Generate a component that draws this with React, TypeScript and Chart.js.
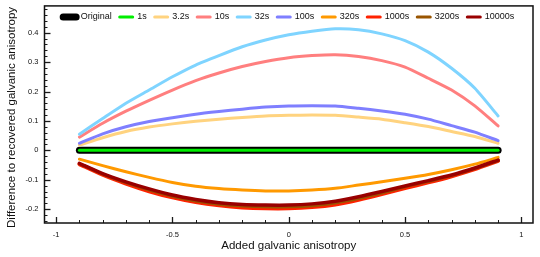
import React, { useEffect, useRef } from "react";
import { Chart, registerables } from "chart.js";

Chart.register(...registerables);

const xs = [-0.9, -0.8, -0.7, -0.6, -0.5, -0.4, -0.3, -0.2, -0.1, 0, 0.1, 0.2, 0.3, 0.4, 0.5, 0.6, 0.7, 0.8, 0.9];

const seriesNames = ["Original", "1s", "3.2s", "10s", "32s", "100s", "320s", "1000s", "3200s", "10000s"];

const original = [0, 0, 0, 0, 0, 0, 0, 0, 0, 0, 0, 0, 0, 0, 0, 0, 0, 0, 0];
const s1 = [0, 0, 0, 0, 0, 0, 0, 0, 0, 0, 0, 0, 0, 0, 0, 0, 0, 0, 0];
const s3_2 = [0.018, 0.043, 0.064, 0.079, 0.09, 0.099, 0.106, 0.112, 0.117, 0.119, 0.12, 0.119, 0.113, 0.106, 0.094, 0.081, 0.064, 0.047, 0.024];
const s10 = [0.045, 0.092, 0.133, 0.17, 0.205, 0.237, 0.263, 0.285, 0.302, 0.315, 0.322, 0.325, 0.319, 0.305, 0.283, 0.245, 0.205, 0.151, 0.083];
const s32 = [0.055, 0.108, 0.16, 0.205, 0.25, 0.29, 0.322, 0.352, 0.375, 0.393, 0.405, 0.413, 0.41, 0.396, 0.373, 0.334, 0.279, 0.211, 0.117];
const s100 = [0.024, 0.056, 0.08, 0.098, 0.111, 0.123, 0.132, 0.14, 0.147, 0.151, 0.152, 0.151, 0.143, 0.134, 0.123, 0.106, 0.084, 0.062, 0.033];
const s320 = [-0.03, -0.052, -0.073, -0.092, -0.109, -0.122, -0.13, -0.135, -0.138, -0.138, -0.135, -0.129, -0.118, -0.107, -0.095, -0.082, -0.066, -0.047, -0.024];
const s1000 = [-0.047, -0.083, -0.113, -0.139, -0.16, -0.176, -0.187, -0.194, -0.197, -0.197, -0.193, -0.184, -0.168, -0.149, -0.128, -0.109, -0.088, -0.064, -0.036];
const s3200 = [-0.045, -0.081, -0.11, -0.135, -0.156, -0.172, -0.183, -0.189, -0.192, -0.192, -0.188, -0.179, -0.164, -0.145, -0.124, -0.106, -0.086, -0.062, -0.035];
const s10000 = [-0.044, -0.079, -0.107, -0.131, -0.152, -0.167, -0.178, -0.184, -0.186, -0.186, -0.182, -0.173, -0.158, -0.14, -0.121, -0.103, -0.084, -0.06, -0.033];

const seriesValues = [original, s1, s3_2, s10, s32, s100, s320, s1000, s3200, s10000];
const seriesColors = ["#000000", "#00ee00", "#ffd37f", "#ff7f7f", "#7fd4ff", "#7f7fff", "#ff9900", "#ff2200", "#995500", "#990000"];
const seriesWidths = [7, 3, 3, 3, 3, 3, 3, 4, 3, 3.5];
const legendWidths = [7, 3, 3, 3, 3, 3, 3, 3, 3, 3];

const xTickValues = [-1, -0.5, 0, 0.5, 1];
const yTickValues = [-0.2, -0.1, 0, 0.1, 0.2, 0.3, 0.4];
const yFrameTop = 0.491;
const yTitle = "Difference to recovered galvanic anisotropy";

const FONT = "'Liberation Sans', Arial, Helvetica, sans-serif";

const framePlugin = {
  id: "frameTicks",
  afterDatasetsDraw(chart: any) {
    const { ctx, chartArea } = chart;
    const xs_ = chart.scales.x;
    const ys_ = chart.scales.y;
    const { left, right, bottom } = chartArea;
    const top = ys_.getPixelForValue(yFrameTop);
    ctx.save();
    ctx.strokeStyle = "#1a1a1a";
    // x ticks
    for (let i = -10; i <= 10; i++) {
      const v = i / 10;
      const px = Math.round(xs_.getPixelForValue(v)) + 0.5;
      const major = i % 5 === 0;
      ctx.lineWidth = major ? 1.3 : 1;
      ctx.beginPath();
      ctx.moveTo(px, bottom);
      ctx.lineTo(px, bottom - (major ? 6 : 3));
      ctx.stroke();
    }
    // y ticks
    for (let i = -12; i <= 24; i++) {
      const v = i / 50;
      const py = Math.round(ys_.getPixelForValue(v)) + 0.5;
      const major = i % 5 === 0;
      ctx.lineWidth = major ? 1.3 : 1;
      ctx.beginPath();
      ctx.moveTo(left, py);
      ctx.lineTo(left + (major ? 6 : 3), py);
      ctx.stroke();
    }
    ctx.lineWidth = 1.5;
    ctx.strokeStyle = "#111";
    ctx.strokeRect(left, top, right - left, bottom - top);
    // y title
    ctx.translate(12, (top + bottom) / 2 + 3);
    ctx.rotate(-Math.PI / 2);
    ctx.fillStyle = "#111";
    ctx.font = `11.5px ${FONT}`;
    ctx.textAlign = "center";
    ctx.textBaseline = "middle";
    ctx.fillText(yTitle, 0, 0);
    ctx.restore();
  },
};

export default function App() {
  const canvasRef = useRef<HTMLCanvasElement | null>(null);

  useEffect(() => {
    if (!canvasRef.current) return;
    const datasets = seriesNames.map((name, i) => ({
      label: name,
      data: xs.map((x, j) => ({ x, y: seriesValues[i][j] })),
      borderColor: seriesColors[i],
      backgroundColor: seriesColors[i],
      borderWidth: seriesWidths[i],
      borderCapStyle: "round" as const,
      borderJoinStyle: "round" as const,
      pointRadius: 0,
      tension: 0.2,
      fill: false,
      clip: false as any,
      order: -i,
    }));
    const chart = new Chart(canvasRef.current, {
      type: "line",
      data: { datasets },
      plugins: [framePlugin],
      options: {
        animation: false,
        responsive: false,
        layout: { padding: { top: 4.5, right: 7, left: 0, bottom: 0 } },
        plugins: {
          tooltip: { enabled: false },
          legend: {
            position: "top",
            align: "center",
            fullSize: false,
            labels: {
              usePointStyle: true,
              pointStyle: "line",
              pointStyleWidth: 13,
              padding: 8,
              color: "#111",
              font: { family: FONT, size: 9 },
              sort: (a: any, b: any) => a.datasetIndex - b.datasetIndex,
              generateLabels: (c: any) => {
                const items = (Chart.defaults as any).plugins.legend.labels.generateLabels(c);
                return items.map((it: any) => ({
                  ...it,
                  pointStyle: "line",
                  lineCap: "round",
                  lineWidth: legendWidths[it.datasetIndex],
                  strokeStyle: seriesColors[it.datasetIndex],
                  fillStyle: seriesColors[it.datasetIndex],
                }));
              },
            },
          },
        },
        scales: {
          x: {
            type: "linear",
            min: -1.05,
            max: 1.05,
            grid: { display: false, drawTicks: false },
            border: { display: false },
            afterBuildTicks: (scale: any) => {
              scale.ticks = xTickValues.map((v) => ({ value: v }));
            },
            afterFit: (scale: any) => {
              scale.height = 34;
            },
            ticks: {
              padding: 7.5,
              color: "#111",
              font: { family: FONT, size: 7.5 },
              maxRotation: 0,
              callback: (v: any) => String(v),
            },
            title: {
              display: true,
              text: "Added galvanic anisotropy",
              color: "#111",
              font: { family: FONT, size: 11.5 },
              padding: { top: 2, bottom: 4 },
            },
          },
          y: {
            type: "linear",
            min: -0.247,
            max: 0.404,
            grid: { display: false, drawTicks: false },
            border: { display: false },
            afterBuildTicks: (scale: any) => {
              scale.ticks = yTickValues.map((v) => ({ value: v }));
            },
            afterFit: (scale: any) => {
              scale.width = 44.5;
            },
            ticks: {
              padding: 6,
              color: "#111",
              font: { family: FONT, size: 7.5 },
              callback: (v: any) => String(Math.round(v * 10) / 10),
            },
            title: { display: false },
          },
        },
      },
    });
    return () => chart.destroy();
  }, []);

  return (
    <div style={{ position: "fixed", left: 0, top: 0, width: 540, height: 257, background: "#fff" }}>
      <canvas ref={canvasRef} width={540} height={257} style={{ display: "block" }} />
    </div>
  );
}
